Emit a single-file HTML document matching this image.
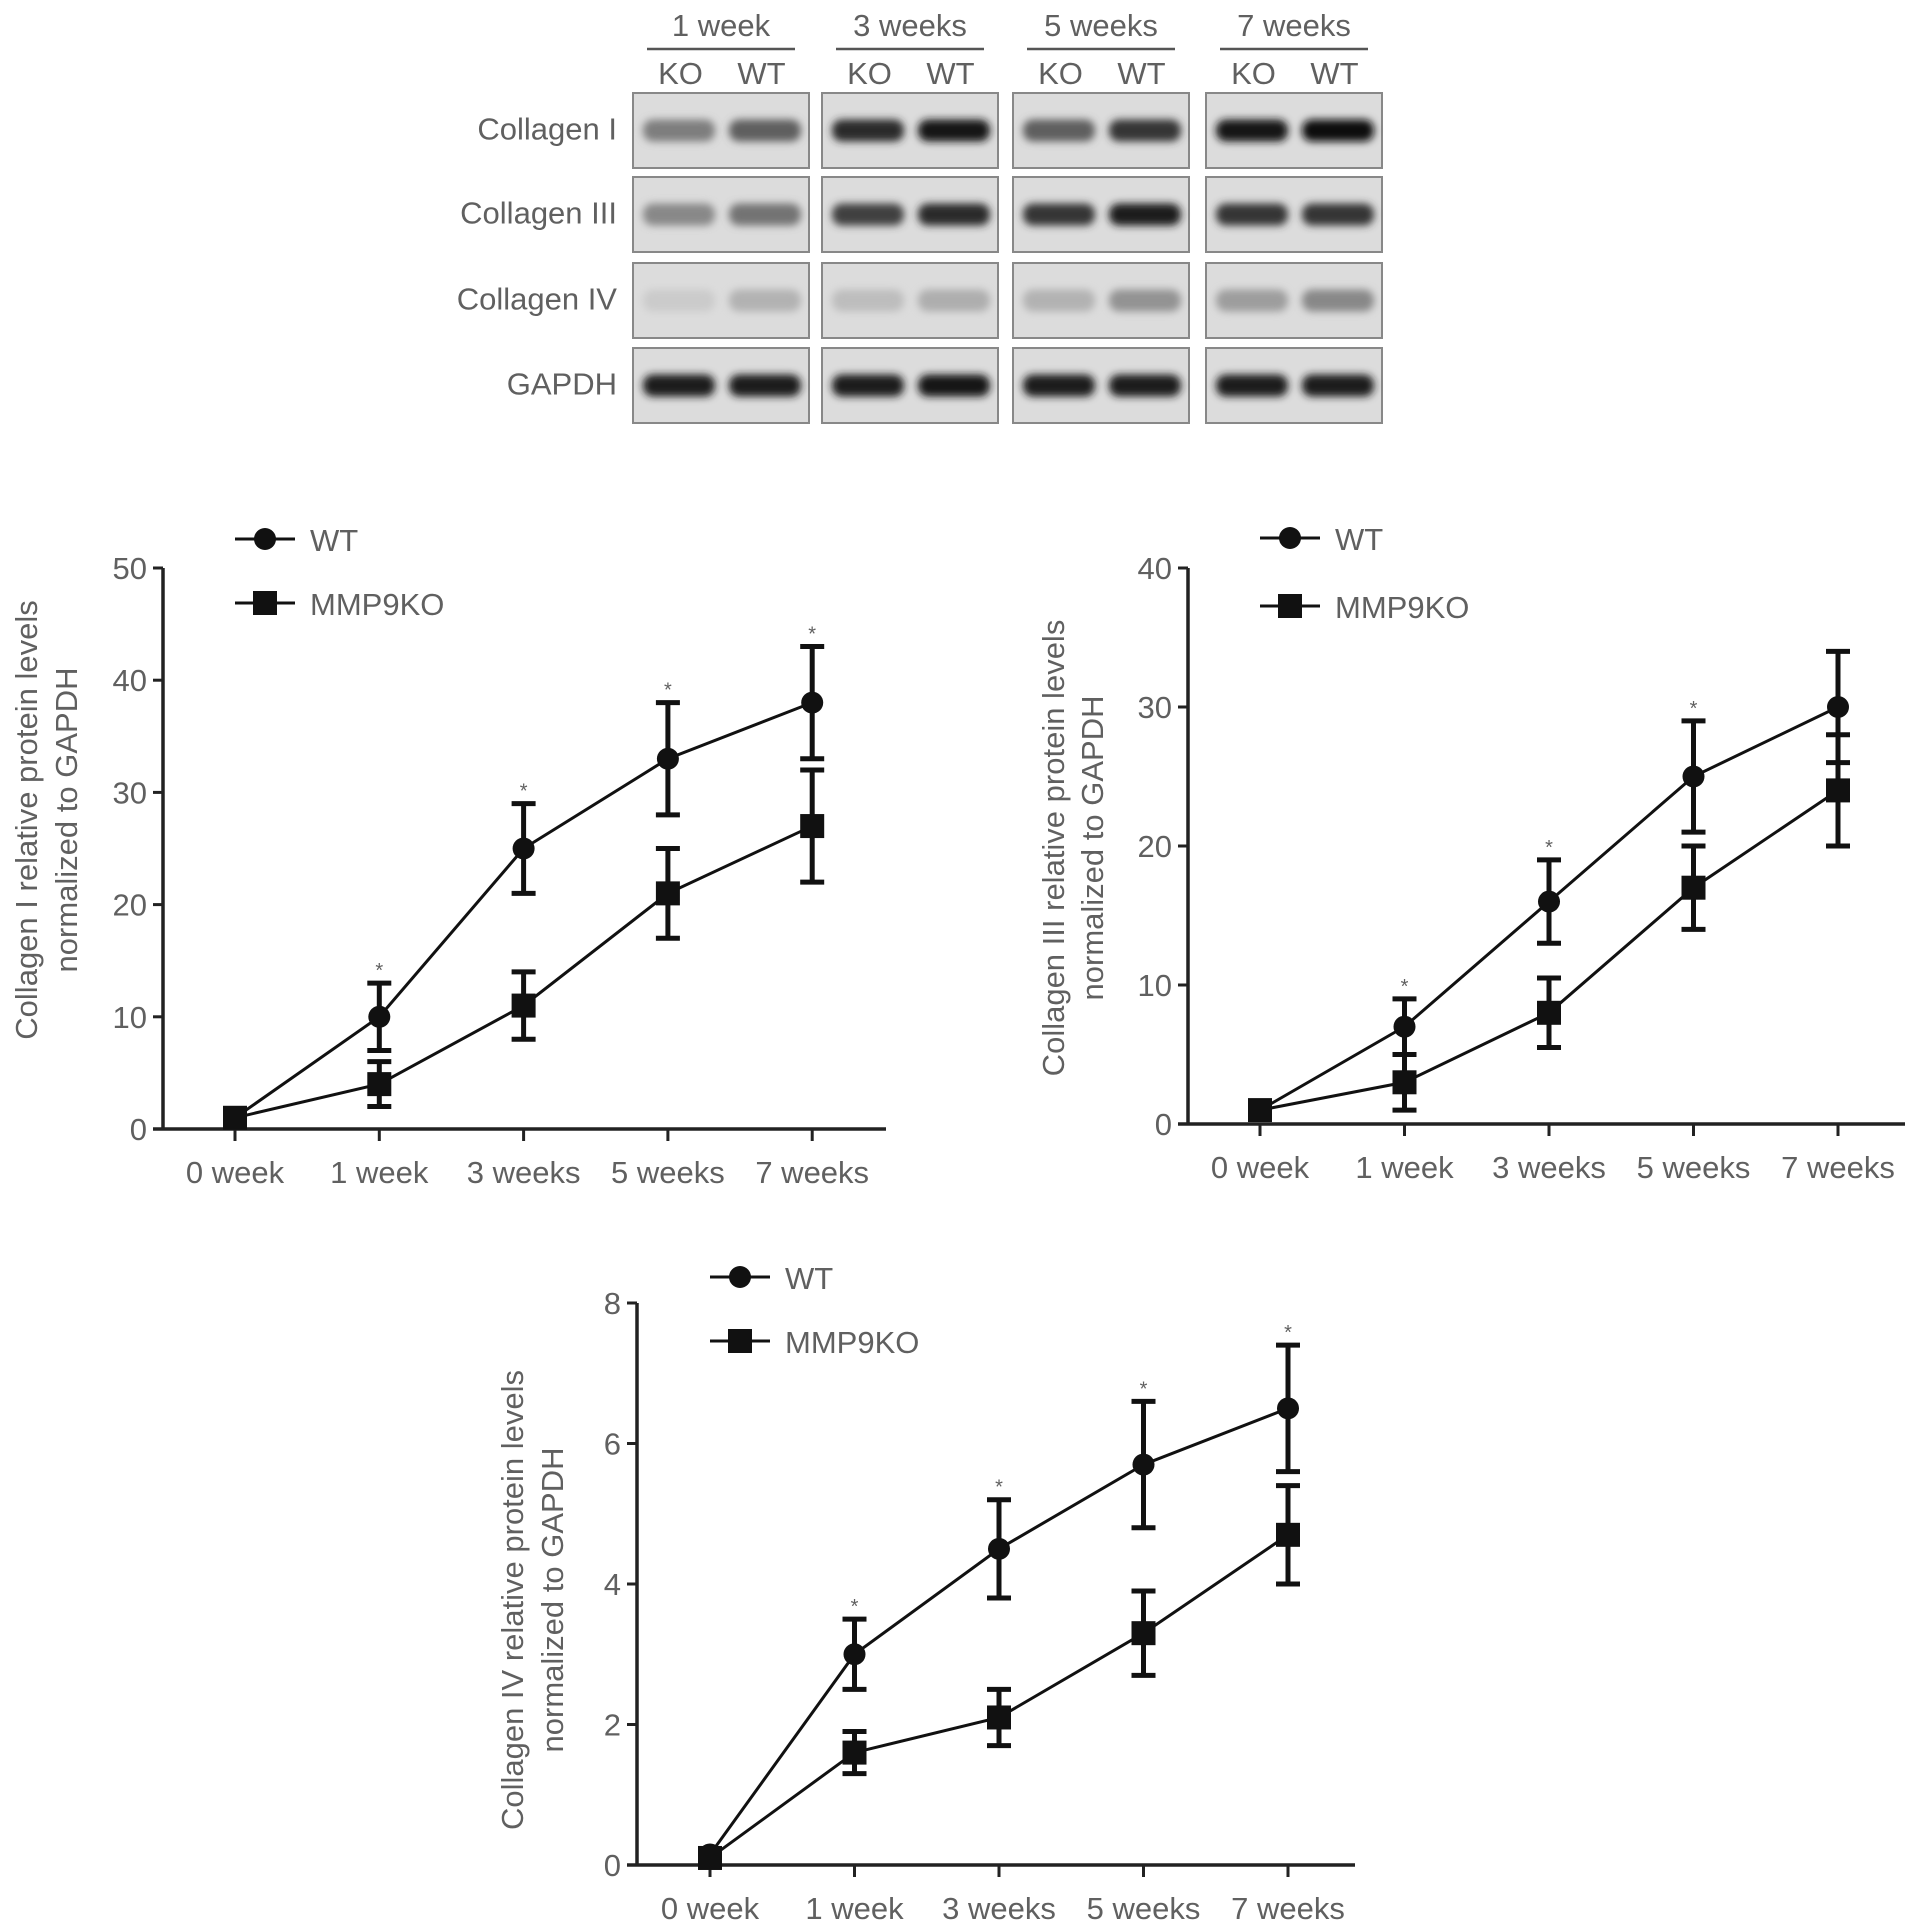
<!DOCTYPE html>
<html><head><meta charset="utf-8"><style>
html,body{margin:0;padding:0;background:#fff;}
svg text{font-family:"Liberation Sans",sans-serif;fill:#606060;}
</style></head><body>
<svg id="fig" width="1913" height="1926" viewBox="0 0 1913 1926" xmlns="http://www.w3.org/2000/svg">
<defs><filter id="blur" x="-20%" y="-50%" width="140%" height="200%"><feGaussianBlur stdDeviation="4"/></filter></defs>
<g id="blot"></g>
<g id="charts"></g>
</svg>
<script>
const NS="http://www.w3.org/2000/svg";
const svg=document.getElementById('fig');
function mk(tag,attrs,parent){const e=document.createElementNS(NS,tag);for(const k in attrs)e.setAttribute(k,attrs[k]);(parent||svg).appendChild(e);return e;}

// ---------- western blot ----------
const blotGroups=["1 week","3 weeks","5 weeks","7 weeks"];
const blotRows=["Collagen I","Collagen III","Collagen IV","GAPDH"];
const bandI=[[[0.45,0.6],[0.85,0.95],[0.6,0.8],[0.95,0.97]],
 [[0.4,0.5],[0.75,0.85],[0.8,0.9],[0.8,0.8]],
 [[0.08,0.2],[0.15,0.22],[0.2,0.35],[0.3,0.4]],
 [[0.9,0.9],[0.92,0.95],[0.92,0.92],[0.92,0.92]]];
const panelX=[633,822,1013,1206], panelW=176;
const rowY=[93,177,263,348], rowH=75;
const blot=document.getElementById('blot');
blotGroups.forEach((g,gi)=>{
  const x=panelX[gi];
  const t=mk('text',{x:x+panelW/2,y:36,'font-size':31,'text-anchor':'middle'},blot);t.textContent=g;
  
  
  mk('line',{x1:x+14,x2:x+panelW-14,y1:49,y2:49,stroke:'#555','stroke-width':2.5},blot);
  ['KO','WT'].forEach((l,li)=>{const tt=mk('text',{x:x+panelW*(li?0.73:0.27),y:84,'font-size':31,'text-anchor':'middle'},blot);tt.textContent=l;
    
    });
  blotRows.forEach((r,ri)=>{
    const y=rowY[ri];
    const p=mk('rect',{x:x,y:y,width:panelW,height:rowH,fill:'#dcdcdc',stroke:'#888','stroke-width':2},blot);
    
    
    [0,1].forEach(li=>{
      const d=bandI[ri][gi][li];const c=Math.round(220-d*210);
      mk('rect',{x:x+(li?96:10),y:y+rowH/2-11,width:72,height:22,rx:10,fill:`rgb(${c},${c},${c})`,filter:'url(#blur)'},blot);
    });
  });
});
blotRows.forEach((r,ri)=>{const t=mk('text',{x:617,y:rowY[ri]+rowH/2+9,'font-size':31,'text-anchor':'end'},blot);t.textContent=r;
  
  });

// ---------- line charts ----------
const categories=["0 week","1 week","3 weeks","5 weeks","7 weeks"];
const c1WT=[1,10,25,33,38], c1WTerr=[0,3,4,5,5], c1KO=[1,4,11,21,27], c1KOerr=[0,2,3,4,5];
const c1Ticks=[0,10,20,30,40,50], c1Star=[false,true,true,true,true];
const c2WT=[1,7,16,25,30], c2WTerr=[0,2,3,4,4], c2KO=[1,3,8,17,24], c2KOerr=[0,2,2.5,3,4];
const c2Ticks=[0,10,20,30,40], c2Star=[false,true,true,true,false];
const c3WT=[0.15,3,4.5,5.7,6.5], c3WTerr=[0,0.5,0.7,0.9,0.9], c3KO=[0.1,1.6,2.1,3.3,4.7], c3KOerr=[0,0.3,0.4,0.6,0.7];
const c3Ticks=[0,2,4,6,8], c3Star=[false,true,true,true,true];

const charts=[
 {name:'collagen-i-chart',wt:c1WT,wtE:c1WTerr,ko:c1KO,koE:c1KOerr,ticks:c1Ticks,star:c1Star,ax:163,x0:235,dx:144.3,xEnd:886,y0:1129,yTop:568,
  title:["Collagen I relative protein levels","normalized to GAPDH"],tx:[27,67],ty:820,leg:{x:235,y1:539,y2:603}},
 {name:'collagen-iii-chart',wt:c2WT,wtE:c2WTerr,ko:c2KO,koE:c2KOerr,ticks:c2Ticks,star:c2Star,ax:1188,x0:1260,dx:144.5,xEnd:1905,y0:1124,yTop:568,
  title:["Collagen III relative protein levels","normalized to GAPDH"],tx:[1054,1093],ty:848,leg:{x:1260,y1:538,y2:606}},
 {name:'collagen-iv-chart',wt:c3WT,wtE:c3WTerr,ko:c3KO,koE:c3KOerr,ticks:c3Ticks,star:c3Star,ax:637,x0:710,dx:144.5,xEnd:1355,y0:1865,yTop:1303,
  title:["Collagen IV relative protein levels","normalized to GAPDH"],tx:[513,553],ty:1600,leg:{x:710,y1:1277,y2:1341}}
];
const chartsG=document.getElementById('charts');
charts.forEach(c=>{
  const g=mk('g',{},chartsG);
  
  
  const maxV=c.ticks[c.ticks.length-1];
  const X=i=>c.x0+i*c.dx;
  const Y=v=>c.y0-(v/maxV)*(c.y0-c.yTop);
  mk('line',{x1:c.ax,x2:c.ax,y1:c.yTop,y2:c.y0,stroke:'#222','stroke-width':3.5},g);
  mk('line',{x1:c.ax-10,x2:c.xEnd,y1:c.y0,y2:c.y0,stroke:'#222','stroke-width':3.5},g);
  c.ticks.forEach(t=>{
    mk('line',{x1:c.ax-10,x2:c.ax,y1:Y(t),y2:Y(t),stroke:'#222','stroke-width':3},g);
    const tl=mk('text',{x:c.ax-16,y:Y(t)+11,'font-size':31,'text-anchor':'end'},g);tl.textContent=t;
    
    
  });
  categories.forEach((cat,i)=>{
    mk('line',{x1:X(i),x2:X(i),y1:c.y0,y2:c.y0+12,stroke:'#222','stroke-width':3},g);
    const tl=mk('text',{x:X(i),y:c.y0+54,'font-size':31,'text-anchor':'middle'},g);tl.textContent=cat;
    
    
  });
  c.title.forEach((s,k)=>{
    const t=mk('text',{x:0,y:0,'font-size':31,'text-anchor':'middle',transform:`translate(${c.tx[k]+10},${c.ty}) rotate(-90)`},g);t.textContent=s;
    
    
  });
  const series=[[c.wt,c.wtE,'wt'],[c.ko,c.koE,'ko']];
  series.forEach(([vals,errs,kind])=>{
    const pts=vals.map((v,i)=>X(i)+','+Y(v)).join(' ');
    const pl=mk('polyline',{points:pts,fill:'none',stroke:'#111','stroke-width':3},g);
    
    
    vals.forEach((v,i)=>{
      if(errs[i]>0){
        const eb=mk('path',{d:`M${X(i)},${Y(v+errs[i])}V${Y(v-errs[i])}M${X(i)-12},${Y(v+errs[i])}h24M${X(i)-12},${Y(v-errs[i])}h24`,stroke:'#111','stroke-width':5,fill:'none'},g);
        
        
      }
      let m;
      if(kind==='wt') m=mk('circle',{cx:X(i),cy:Y(v),r:11,fill:'#111'},g);
      else m=mk('rect',{x:X(i)-12,y:Y(v)-12,width:24,height:24,fill:'#111'},g);
      
      
    });
  });
  c.wt.forEach((v,i)=>{
    if(c.star[i]){const s=mk('text',{x:X(i),y:Y(v+c.wtE[i])-6,'font-size':20,'text-anchor':'middle'},g);s.textContent='*';
      
      }
  });
  const L=c.leg;
  const lg=mk('g',{},g);
  
  
  mk('line',{x1:L.x,x2:L.x+60,y1:L.y1,y2:L.y1,stroke:'#111','stroke-width':3},lg);
  mk('circle',{cx:L.x+30,cy:L.y1,r:11,fill:'#111'},lg);
  const t1=mk('text',{x:L.x+75,y:L.y1+12,'font-size':31},lg);t1.textContent='WT';
  
  
  mk('line',{x1:L.x,x2:L.x+60,y1:L.y2,y2:L.y2,stroke:'#111','stroke-width':3},lg);
  mk('rect',{x:L.x+18,y:L.y2-12,width:24,height:24,fill:'#111'},lg);
  const t2=mk('text',{x:L.x+75,y:L.y2+12,'font-size':31},lg);t2.textContent='MMP9KO';
  
  
});
</script>
</body></html>
